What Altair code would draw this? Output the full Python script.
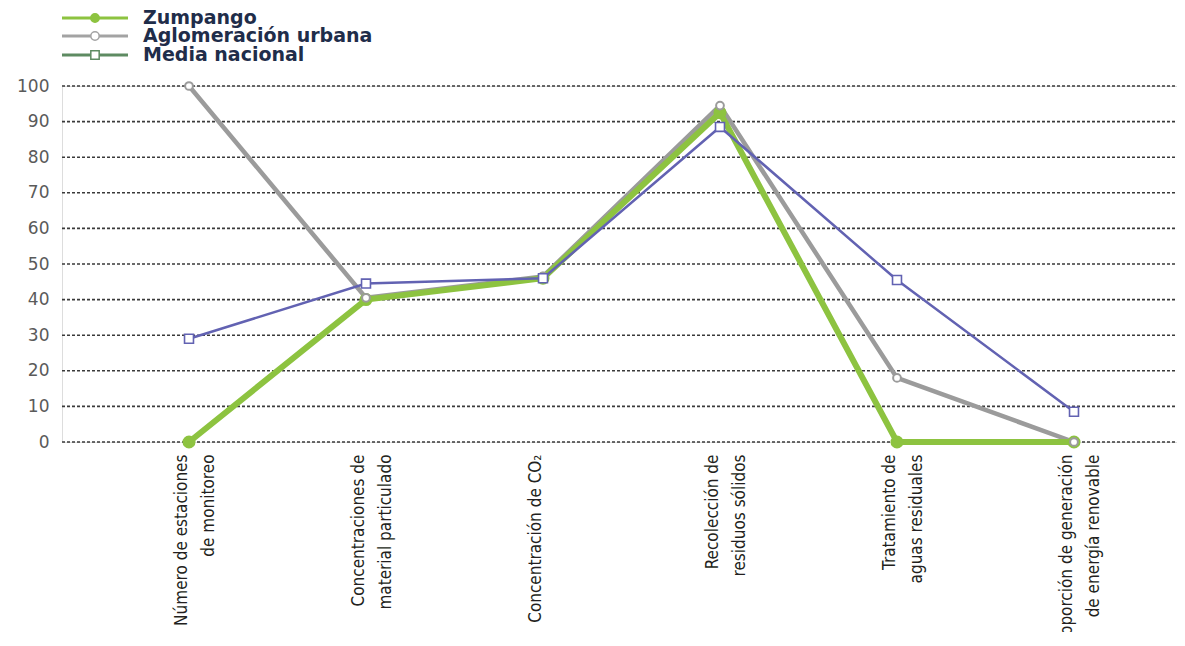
import altair as alt
import pandas as pd

categories = [
    "Número de estaciones\nde monitoreo",
    "Concentraciones de\nmaterial particulado",
    "Concentración de CO₂",
    "Recolección de\nresiduos sólidos",
    "Tratamiento de\naguas residuales",
    "Proporción de generación\nde energía renovable",
]
zumpango = [0, 40, 46, 92.5, 0, 0]
aglomeracion = [100, 40.5, 46.5, 94.5, 18, 0]
media_nacional = [29, 44.5, 46, 88.5, 45.5, 8.5]
y_ticks = list(range(0, 101, 10))

series_names = ["Zumpango", "Aglomeración urbana", "Media nacional"]
legend_colors = ["#8dc340", "#a3a3a3", "#5e8b62"]

C_GREEN = "#8dc340"
C_GRAY = "#9b9b9b"
C_BLUE = "#6262b2"

W, H = 1115, 356

df = pd.DataFrame({
    "cat": categories * 3,
    "order": list(range(6)) * 3,
    "serie": [series_names[0]] * 6 + [series_names[1]] * 6 + [series_names[2]] * 6,
    "valor": zumpango + aglomeracion + media_nacional,
})

x_enc = alt.X(
    "cat:N",
    sort=categories,
    scale=alt.Scale(type="point", range=[127, 1012], padding=0),
    axis=alt.Axis(
        title=None,
        labelAngle=-90,
        labelAlign="right",
        labelBaseline="middle",
        labelExpr="split(datum.label, '\\n')",
        labelFont="DejaVu Sans Condensed",
        labelFontSize=17,
        labelLineHeight=27,
        labelColor="#231f20",
        labelPadding=12,
        labelOffset=-8,
        ticks=False,
        domain=False,
        grid=False,
        labelLimit=0,
    ),
)
y_scale = alt.Scale(domain=[0, 100], nice=False)
y_axis = alt.Axis(
    title=None,
    values=y_ticks,
    labelFont="DejaVu Sans",
    labelFontSize=17,
    labelColor="#5a5a5a",
    labelPadding=13,
    ticks=False,
    domain=False,
    grid=False,
)
y_enc = alt.Y("valor:Q", scale=y_scale, axis=y_axis)

# dotted gridlines across the full plot width
grid = alt.Chart(pd.DataFrame({"valor": y_ticks})).mark_rule(
    color="#3a3a3a", strokeDash=[3, 2], strokeWidth=1.6
).encode(x=alt.value(0), x2=alt.value(W), y=y_enc)

base = alt.Chart(df)

def sel(name):
    return base.transform_filter(alt.datum.serie == name)

gray_line = sel(series_names[1]).mark_line(color=C_GRAY, strokeWidth=4.5).encode(x=x_enc, y=y_enc, order="order:Q")
green_line = sel(series_names[0]).mark_line(color=C_GREEN, strokeWidth=6).encode(x=x_enc, y=y_enc, order="order:Q")
green_pts = sel(series_names[0]).mark_point(filled=True, color=C_GREEN, size=170, opacity=1, shape="circle").encode(x=x_enc, y=y_enc)
gray_pts = sel(series_names[1]).mark_point(filled=True, fill="white", stroke=C_GRAY, strokeWidth=2, size=60, opacity=1, shape="circle").encode(x=x_enc, y=y_enc)
blue_line = sel(series_names[2]).mark_line(color=C_BLUE, strokeWidth=2.5).encode(x=x_enc, y=y_enc, order="order:Q")
blue_pts = sel(series_names[2]).mark_point(filled=True, fill="white", stroke=C_BLUE, strokeWidth=1.6, size=80, opacity=1, shape="square").encode(x=x_enc, y=y_enc)

# custom legend above the plot
legend_layers = []
leg_ys = [-68, -50, -31]
for name, col, py in zip(series_names, legend_colors, leg_ys):
    ldf = pd.DataFrame({"serie": [name]})
    legend_layers.append(
        alt.Chart(ldf).mark_rule(strokeWidth=3, color=col).encode(
            x=alt.value(0), x2=alt.value(66), y=alt.value(py)
        )
    )
    shape = "square" if name == "Media nacional" else "circle"
    fill = col if name == "Zumpango" else "white"
    legend_layers.append(
        alt.Chart(ldf).mark_point(
            filled=True, size=70, strokeWidth=1.5, opacity=1, shape=shape, fill=fill, stroke=col
        ).encode(x=alt.value(33), y=alt.value(py))
    )
    legend_layers.append(
        alt.Chart(ldf).mark_text(
            align="left", baseline="middle", font="DejaVu Sans", fontSize=19, fontWeight="bold", color="#1f2d4a"
        ).encode(x=alt.value(81), y=alt.value(py), text="serie:N")
    )

chart = alt.layer(
    grid, gray_line, green_line, green_pts, gray_pts, blue_line, blue_pts, *legend_layers
).properties(
    width=W,
    height=H,
    autosize=alt.AutoSizeParams(type="none"),
    padding={"left": 54, "top": 78, "right": 0, "bottom": 190},
).configure_view(stroke=None).configure(background="white")

chart.save("out.html", embed_options={"renderer": "svg", "actions": False})
